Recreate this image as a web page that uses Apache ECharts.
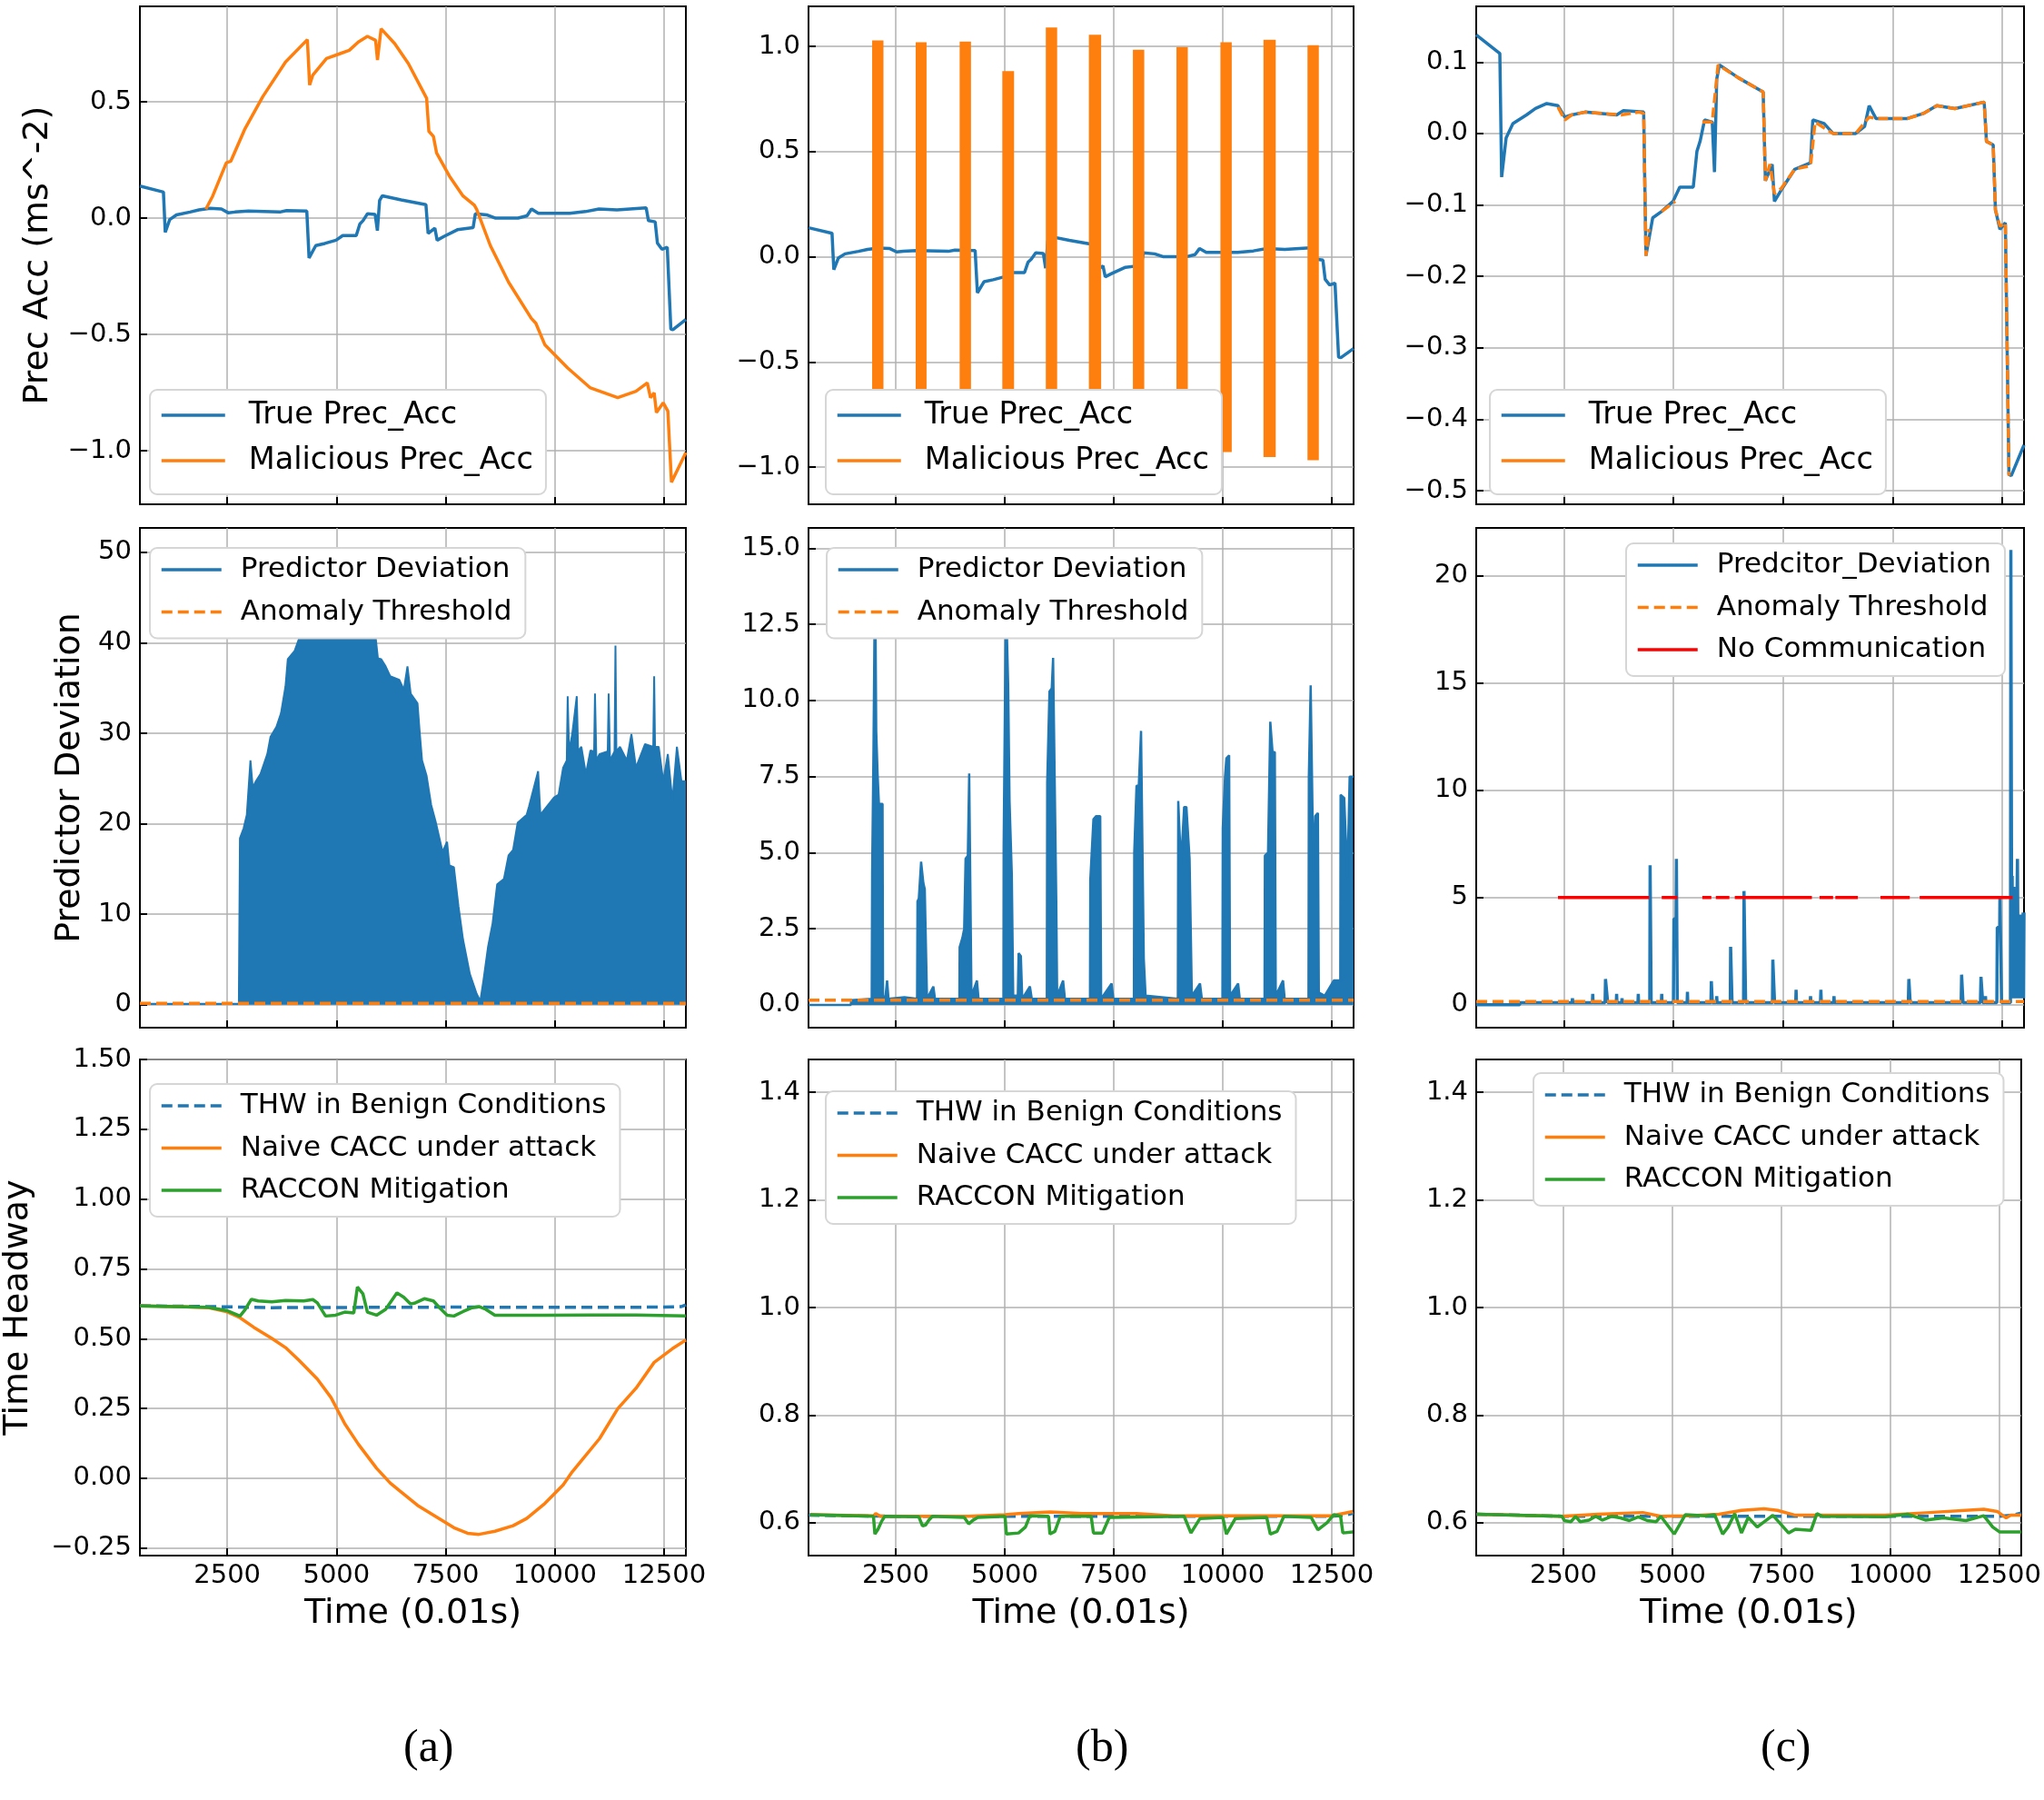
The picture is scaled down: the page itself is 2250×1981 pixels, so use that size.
<!DOCTYPE html>
<html lang="en">
<head>
<meta charset="UTF-8">
<title>Prec Acc / Predictor Deviation / Time Headway</title>
<script src="https://cdn.jsdelivr.net/npm/echarts@6/dist/echarts.min.js"></script>
<style>body{margin:0;background:#fff;}</style>
</head>
<body>
<div id="chart" style="width:2250px;height:1981px;"></div>
<script>
// ---------- data, time in 0.01 s ----------
var xTicks = [2500, 5000, 7500, 10000, 12500];

// true preceding-vehicle acceleration (same run in all three columns)
var trueAcc = [[500,0.138],[1039,0.112],[1080,-0.061],[1183,-0.006],[1337,0.014],[1646,0.026],[1852,0.035],[2109,0.042],[2366,0.039],[2520,0.023],[2675,0.026],[2984,0.030],[3704,0.026],[3858,0.032],[4321,0.030],[4373,-0.171],[4527,-0.118],[4733,-0.109],[4990,-0.095],[5144,-0.075],[5453,-0.075],[5536,-0.025],[5608,-0.011],[5711,0.019],[5886,0.016],[5937,-0.054],[5988,0.076],[6050,0.096],[6482,0.078],[7048,0.058],[7099,-0.066],[7253,-0.043],[7305,-0.095],[7460,-0.079],[7768,-0.050],[8129,-0.041],[8180,0.019],[8437,0.014],[8643,0.000],[9158,0.000],[9363,0.010],[9466,0.039],[9621,0.021],[10341,0.021],[10701,0.028],[11010,0.039],[11422,0.035],[12091,0.044],[12143,-0.011],[12297,-0.016],[12348,-0.107],[12451,-0.134],[12574,-0.125],[12656,-0.477],[12708,-0.479],[13000,-0.436]];

// (a) malicious acceleration
var malAccA = [[2010,0.038],[2167,0.095],[2479,0.238],[2583,0.245],[2896,0.380],[3313,0.522],[3834,0.671],[4334,0.767],[4386,0.572],[4459,0.615],[4772,0.686],[5084,0.707],[5293,0.721],[5501,0.757],[5709,0.781],[5897,0.764],[5939,0.679],[6022,0.814],[6334,0.750],[6647,0.664],[7064,0.515],[7116,0.373],[7220,0.351],[7293,0.280],[7585,0.181],[7898,0.095],[8158,0.055],[8210,0.038],[8523,-0.118],[8940,-0.275],[9461,-0.431],[9565,-0.452],[9773,-0.545],[10294,-0.644],[10815,-0.730],[11440,-0.772],[11857,-0.744],[12117,-0.708],[12190,-0.772],[12274,-0.751],[12326,-0.836],[12482,-0.794],[12587,-0.829],[12670,-1.135],[13000,-1.007]];

// (b) malicious acceleration bursts: start, end, top, bottom
var burstStart = [1959, 2958, 3966, 4944, 5942, 6930, 7939, 8938, 9946, 10934, 11943];
var burstEnd   = [2219, 3207, 4226, 5214, 6202, 7211, 8199, 9198, 10206, 11215, 12203];
var burstTop   = [1.028, 1.019, 1.023, 0.882, 1.090, 1.055, 0.984, 0.997, 1.019, 1.031, 1.005];
var burstLow   = [-0.95, -0.95, -0.95, -0.95, -0.95, -0.95, -0.95, -0.95, -0.928, -0.951, -0.967];

// (c) malicious acceleration, '-' where only the true trace shows
var malAccC = [[2366,0.037],[2521,0.019],[2675,0.026],[2984,0.030],[3807,0.026],[4218,0.030],[4321,0.028],[4373,-0.171],[4445,-0.134],[4500,'-'],[4733,-0.109],[5042,-0.095],[5100,'-'],[5659,0.016],[5885,0.016],[6019,0.096],[6482,0.078],[7048,0.058],[7099,-0.066],[7202,-0.043],[7305,-0.084],[7460,-0.077],[7768,-0.050],[8129,-0.045],[8232,0.016],[8643,0.000],[9158,0.000],[9466,0.023],[9621,0.021],[10341,0.021],[10701,0.028],[11010,0.039],[11422,0.035],[12091,0.044],[12143,-0.011],[12297,-0.016],[12348,-0.107],[12451,-0.130],[12574,-0.125],[12656,-0.479]];

// predictor deviation (upper envelope of the dense oscillation)
var devA = [[500,0.1],[2765,0.1],[2790,18.4],[2875,19.5],[2948,21.0],[3031,27.0],[3084,24.0],[3156,24.7],[3261,25.5],[3417,27.7],[3490,29.6],[3625,30.7],[3730,32.2],[3834,35.2],[3886,38.2],[4042,39.1],[4146,40.5],[4250,42],[4459,44],[4772,45],[5293,45.5],[5605,44],[5866,42],[5949,38.3],[6022,38.2],[6126,37.4],[6230,36.3],[6439,35.9],[6543,34.8],[6626,37.4],[6699,34.4],[6856,33.3],[6908,30.0],[6960,27.0],[7064,25.3],[7168,22.1],[7272,20.2],[7429,16.9],[7533,18.0],[7585,15.4],[7689,15.2],[7793,10.9],[7898,7.2],[8054,3.4],[8210,1.2],[8294,0.4],[8366,2.7],[8471,6.4],[8575,9.0],[8679,13.3],[8835,13.9],[8940,16.5],[9044,17.1],[9148,20.1],[9356,21.0],[9408,21.9],[9617,25.8],[9669,21.0],[9982,22.9],[10086,23.2],[10190,26.2],[10273,27],[10294,34.1],[10325,28],[10398,29.9],[10502,34.1],[10533,28],[10607,28.5],[10711,25.5],[10815,28.1],[10899,28],[10919,34.4],[10951,27],[11023,27.7],[11211,28],[11232,34.4],[11263,27],[11367,28],[11388,39.7],[11409,28],[11492,28.5],[11649,27.0],[11753,29.9],[11857,26.2],[12065,28.8],[12253,28.5],[12274,36.3],[12294,28.5],[12378,28.5],[12482,24.7],[12587,27.7],[12691,22.5],[12795,28.5],[12899,24.7],[13000,24.7]];

var devB = [[500,0.0],[1470,0.0],[1480,0.15],[1949,0.2],[1959,4.3],[1990,8.4],[2011,12.0],[2032,13.5],[2053,9.0],[2084,7.6],[2115,6.6],[2198,6.6],[2209,0.3],[2260,0.2],[2302,0.8],[2334,0.2],[2700,0.25],[2990,0.2],[2999,3.4],[3030,3.5],[3082,4.7],[3134,4.0],[3166,3.8],[3207,3.8],[3218,0.2],[3363,0.6],[3400,0.2],[3960,0.2],[3966,1.9],[4029,2.2],[4070,2.5],[4102,4.8],[4154,4.9],[4185,7.6],[4216,7.6],[4237,0.3],[4362,0.8],[4400,0.2],[4970,0.2],[4975,5.2],[5027,13.5],[5079,10.5],[5110,6.7],[5162,4.3],[5194,0.3],[5300,0.3],[5318,1.7],[5370,1.6],[5402,0.2],[5578,0.6],[5620,0.2],[5965,0.2],[5974,7.3],[6026,10.3],[6078,10.4],[6109,11.4],[6150,11.4],[6182,3.4],[6202,0.3],[6338,0.8],[6380,0.2],[6955,0.2],[6962,4.1],[7034,6.1],[7097,6.2],[7190,6.2],[7211,0.2],[7450,0.7],[7490,0.2],[7962,0.2],[7970,5.0],[8022,7.2],[8074,7.2],[8126,9.0],[8158,9.0],[8189,1.5],[8230,0.3],[8970,0.2],[8979,6.7],[9042,4.6],[9114,6.5],[9166,6.5],[9239,4.8],[9270,4.8],[9291,0.3],[9478,0.7],[9520,0.2],[9992,0.2],[10000,5.8],[10052,7.5],[10083,8.1],[10146,8.2],[10167,0.3],[10352,0.7],[10390,0.2],[10958,0.2],[10966,4.9],[11038,5.0],[11090,9.3],[11142,8.3],[11194,8.3],[11215,0.3],[11382,0.8],[11420,0.2],[11966,0.2],[11974,7.5],[12016,10.5],[12078,4.4],[12120,6.2],[12182,6.3],[12203,0.4],[12338,0.3],[12546,0.8],[12650,0.8],[12695,0.8],[12702,6.9],[12785,6.8],[12858,4.2],[12910,7.5],[12983,7.5],[13000,7.5]];

var devC = [[500,0],[1490,0],[1500,0.1],[2688,0.1],[2696,0.3],[2704,0.1],[3151,0.1],[3159,0.5],[3167,0.1],[3440,0.1],[3450,1.2],[3490,1.2],[3500,0.1],[3696,0.1],[3704,0.5],[3712,0.1],[3819,0.1],[3827,0.3],[3835,0.1],[4190,0.1],[4198,0.5],[4206,0.1],[4460,0.1],[4468,6.5],[4484,6.5],[4492,0.1],[4725,0.1],[4733,0.5],[4741,0.1],[5000,0.1],[5011,4.0],[5060,4.0],[5068,6.8],[5080,6.8],[5088,0.1],[5312,0.1],[5320,0.6],[5328,0.1],[5855,0.1],[5865,1.1],[5880,1.1],[5888,0.1],[5980,0.1],[5988,0.4],[5996,0.1],[6297,0.1],[6305,2.7],[6330,2.7],[6338,0.1],[6600,0.1],[6610,5.3],[6640,5.3],[6648,0.1],[7260,0.1],[7268,2.1],[7300,2.1],[7308,0.1],[7790,0.1],[7799,0.7],[7808,0.1],[8120,0.1],[8129,0.4],[8138,0.1],[8355,0.1],[8365,0.7],[8375,0.1],[8655,0.1],[8664,0.4],[8673,0.1],[10360,0.1],[10372,1.2],[10395,1.2],[10403,0.1],[11565,0.1],[11576,1.4],[11600,1.4],[11608,0.1],[12005,0.1],[12018,1.3],[12050,1.3],[12058,0.1],[12113,0.1],[12121,0.4],[12129,0.1],[12380,0.1],[12390,3.6],[12445,3.6],[12450,5.0],[12480,5.0],[12488,0.1],[12690,0.1],[12700,21.2],[12716,21.2],[12722,0.3],[12730,6.0],[12740,0.3],[12760,0.3],[12768,5.5],[12776,0.3],[12790,0.3],[12800,4.5],[12810,0.3],[12840,0.3],[12850,6.8],[12862,6.8],[12870,0.3],[12880,4.2],[12890,0.3],[12900,4.2],[12910,0.3],[12920,4.2],[12930,0.3],[12940,4.2],[12950,0.3],[12960,4.2],[12970,0.3],[12980,4.3],[12990,0.3],[13000,4.3]];

var anomalyThreshold = 0.15;
var noCommLevel = 5;
var noCommSegments = [[2366,4445],[4733,5093],[5659,5865],[5968,6277],[6400,8160],[8334,8643],[8695,9209],[9724,10393],[10619,12739]];

// time headway
var benignA = [[500,0.618],[2500,0.614],[3521,0.611],[7709,0.613],[10836,0.612],[12503,0.613],[12900,0.615],[13000,0.621]];
var naiveA = [[500,0.617],[1437,0.615],[2062,0.611],[2479,0.597],[2792,0.575],[3104,0.541],[3521,0.501],[3834,0.468],[4146,0.422],[4563,0.355],[4876,0.289],[5032,0.242],[5188,0.196],[5501,0.122],[5918,0.036],[6230,-0.017],[6439,-0.044],[6856,-0.097],[7272,-0.137],[7689,-0.177],[8002,-0.197],[8262,-0.201],[8627,-0.190],[9044,-0.170],[9356,-0.144],[9773,-0.090],[10190,-0.024],[10398,0.023],[10607,0.063],[11024,0.142],[11440,0.249],[11857,0.322],[12274,0.415],[12691,0.464],[13000,0.495]];
var raccoonA = [[500,0.617],[2062,0.612],[2479,0.601],[2792,0.581],[2896,0.601],[3052,0.641],[3209,0.635],[3521,0.632],[3834,0.637],[4250,0.635],[4459,0.640],[4563,0.628],[4751,0.581],[4980,0.584],[5188,0.595],[5397,0.592],[5480,0.685],[5605,0.661],[5709,0.595],[5918,0.584],[6126,0.605],[6387,0.664],[6543,0.648],[6699,0.624],[6803,0.628],[7012,0.643],[7220,0.635],[7377,0.608],[7533,0.584],[7689,0.581],[7898,0.597],[8106,0.611],[8262,0.615],[8419,0.605],[8627,0.584],[9773,0.584],[10815,0.585],[11857,0.585],[13000,0.581]];

var benignB = [[500,0.614],[2500,0.612],[7500,0.612],[12500,0.612],[12800,0.614],[13000,0.618]];
var naiveB = [[534,0.615],[1990,0.613],[2042,0.617],[2146,0.612],[4174,0.612],[5006,0.615],[5318,0.617],[6046,0.620],[6774,0.617],[8022,0.617],[8854,0.613],[10934,0.613],[12494,0.613],[12983,0.621]];
var raccoonB = [[534,0.615],[1990,0.612],[2022,0.579],[2094,0.588],[2178,0.603],[2250,0.612],[3030,0.611],[3114,0.594],[3186,0.596],[3259,0.605],[3342,0.612],[4070,0.610],[4174,0.598],[4278,0.605],[4382,0.610],[5006,0.612],[5038,0.579],[5318,0.581],[5474,0.592],[5578,0.613],[6005,0.612],[6036,0.579],[6150,0.584],[6275,0.612],[6982,0.612],[7034,0.581],[7242,0.581],[7398,0.610],[9114,0.612],[9270,0.581],[9478,0.608],[10000,0.610],[10082,0.579],[10290,0.608],[11007,0.610],[11090,0.579],[11246,0.584],[11402,0.612],[12026,0.610],[12182,0.587],[12390,0.600],[12546,0.615],[12702,0.612],[12754,0.581],[12983,0.583]];

var benignC = [[500,0.616],[2500,0.612],[12500,0.612],[12800,0.614],[13000,0.618]];
var naiveC = [[514,0.616],[2469,0.612],[3292,0.616],[4321,0.619],[4733,0.612],[5350,0.613],[6071,0.616],[6585,0.623],[7100,0.626],[7408,0.623],[7820,0.614],[8334,0.614],[9878,0.614],[10907,0.619],[12142,0.625],[12451,0.621],[12656,0.609],[12759,0.614],[13000,0.614]];
var raccoonC = [[514,0.616],[2469,0.612],[2521,0.604],[2675,0.602],[2778,0.612],[2881,0.602],[3087,0.605],[3241,0.612],[3395,0.605],[3601,0.612],[3807,0.609],[4013,0.604],[4218,0.611],[4424,0.604],[4630,0.602],[4733,0.612],[5042,0.579],[5299,0.615],[5762,0.613],[5968,0.615],[6153,0.579],[6277,0.592],[6431,0.617],[6585,0.581],[6740,0.610],[6945,0.592],[7305,0.614],[7665,0.581],[7820,0.588],[8180,0.586],[8314,0.617],[8437,0.612],[9878,0.611],[10392,0.616],[10804,0.605],[11216,0.609],[11731,0.604],[12142,0.613],[12348,0.592],[12502,0.583],[13000,0.583]];

// y tick values per panel
var ticksA1 = [-1.0, -0.5, 0, 0.5];
var ticksB1 = [-1.0, -0.5, 0, 0.5, 1.0];
var ticksC1 = [-0.5, -0.4, -0.3, -0.2, -0.1, 0, 0.1];
var ticksA2 = [0, 10, 20, 30, 40, 50];
var ticksB2 = [0, 2.5, 5, 7.5, 10, 12.5, 15];
var ticksC2 = [0, 5, 10, 15, 20];
var ticksA3 = [-0.25, 0, 0.25, 0.5, 0.75, 1.0, 1.25, 1.5];
var ticksB3 = [0.6, 0.8, 1.0, 1.2, 1.4];

var BLUE = '#1f77b4', ORANGE = '#ff7f0e', GREEN = '#2ca02c', RED = '#ff0000';
var FONT = 'DejaVu Sans';
var LW = 3.5;

var colX = [[154, 601], [890, 600], [1625, 603]];
var rowY = [[7, 548], [581, 550], [1166, 546]];

var panels = [
    {yMin: -1.23, yMax: 0.91, ticks: ticksA1, dec: 1, name: 'Prec Acc (ms^-2)', gap: 93},
    {yMin: -1.176, yMax: 1.19, ticks: ticksB1, dec: 1},
    {yMin: -0.519, yMax: 0.178, ticks: ticksC1, dec: 1},
    {yMin: -2.54, yMax: 52.7, ticks: ticksA2, dec: 0, name: 'Predictor Deviation', gap: 58},
    {yMin: -0.75, yMax: 15.67, ticks: ticksB2, dec: 1},
    {yMin: -1.07, yMax: 22.23, ticks: ticksC2, dec: 0},
    {yMin: -0.277, yMax: 1.5, ticks: ticksA3, dec: 2, name: 'Time Headway', gap: 115},
    {yMin: 0.539, yMax: 1.461, ticks: ticksB3, dec: 1},
    {yMin: 0.539, yMax: 1.461, ticks: ticksB3, dec: 1}
];

var grids = [], xAxes = [], yAxes = [];
panels.forEach(function (p, i) {
    var c = colX[i % 3], r = rowY[Math.floor(i / 3)];
    var bottomRow = i >= 6;
    grids.push({left: c[0], top: r[0], width: c[1], height: r[1], show: true,
        borderColor: '#000', borderWidth: 2, backgroundColor: '#fff'});
    xAxes.push({
        type: 'value', gridIndex: i, min: 500, max: 13000,
        axisLine: {show: false, onZero: false},
        axisTick: {show: true, inside: true, length: 8, customValues: xTicks, lineStyle: {color: '#000', width: 2}},
        axisLabel: {show: bottomRow, customValues: xTicks, margin: 8, color: '#000', fontSize: 29, fontFamily: FONT,
            formatter: function (v) { return String(v); }},
        splitLine: {show: true, lineStyle: {color: '#b0b0b0', width: 1.5}},
        name: bottomRow ? 'Time (0.01s)' : '', nameLocation: 'middle', nameGap: 45,
        nameTextStyle: {fontSize: 38, color: '#000', fontFamily: FONT}
    });
    yAxes.push({
        type: 'value', gridIndex: i, min: p.yMin, max: p.yMax,
        axisLine: {show: false, onZero: false},
        axisTick: {show: true, inside: true, length: 8, customValues: p.ticks, lineStyle: {color: '#000', width: 2}},
        axisLabel: {customValues: p.ticks, margin: 9, color: '#000', fontSize: 29, fontFamily: FONT,
            formatter: (function (d) {
                return function (v) { return v.toFixed(d).replace('-', '\u2212'); };
            })(p.dec)},
        splitLine: {show: true, lineStyle: {color: '#b0b0b0', width: 1.5}},
        name: p.name || '', nameLocation: 'middle', nameGap: p.gap || 50,
        nameTextStyle: {fontSize: 38, color: '#000', fontFamily: FONT}
    });
});

function line(name, data, idx, color, dashed, z, extra) {
    var s = {
        name: name, type: 'line', xAxisIndex: idx, yAxisIndex: idx, data: data,
        symbol: 'none', animation: false, z: z || 2, clip: true,
        lineStyle: {color: color, width: LW, type: dashed ? [12, 6] : 'solid'},
        itemStyle: {color: color}
    };
    for (var k in extra) s[k] = extra[k];
    return s;
}

// level line broken into the listed segments
function flat(level, segs) {
    var out = [];
    segs.forEach(function (s) {
        out.push([s[0], level], [s[1], level], [s[1], '-']);
    });
    return out;
}

var bursts = burstStart.map(function (t, i) {
    return [t, burstEnd[i], burstTop[i], burstLow[i]];
});

var series = [
    line('True Prec_Acc', trueAcc, 0, BLUE, false, 2),
    line('Malicious Prec_Acc', malAccA, 0, ORANGE, false, 3),
    line('True Prec_Acc', trueAcc, 1, BLUE, false, 2),
    {
        name: 'Malicious Prec_Acc', type: 'custom', xAxisIndex: 1, yAxisIndex: 1,
        data: bursts, encode: {x: [0, 1], y: [2, 3]}, z: 3, animation: false,
        itemStyle: {color: ORANGE},
        renderItem: function (params, api) {
            var p1 = api.coord([api.value(0), api.value(2)]);
            var p2 = api.coord([api.value(1), api.value(3)]);
            return {type: 'rect', shape: {x: p1[0], y: p1[1], width: p2[0] - p1[0], height: p2[1] - p1[1]},
                style: {fill: ORANGE}};
        }
    },
    line('True Prec_Acc', trueAcc, 2, BLUE, false, 2),
    line('Malicious Prec_Acc', malAccC, 2, ORANGE, true, 3, {lineStyle: {color: ORANGE, width: LW, type: [11, 5]}}),

    line('Predictor Deviation', devA, 3, BLUE, false, 2, {areaStyle: {color: BLUE, opacity: 1}, lineStyle: {color: BLUE, width: 2}}),
    line('Anomaly Threshold', [[500, anomalyThreshold], [13000, anomalyThreshold]], 3, ORANGE, true, 3),
    line('Predictor Deviation', devB, 4, BLUE, false, 2, {areaStyle: {color: BLUE, opacity: 1}, lineStyle: {color: BLUE, width: 2.5}}),
    line('Anomaly Threshold', [[500, anomalyThreshold], [13000, anomalyThreshold]], 4, ORANGE, true, 3),
    line('Predcitor_Deviation', devC, 5, BLUE, false, 2),
    line('Anomaly Threshold', [[500, anomalyThreshold], [13000, anomalyThreshold]], 5, ORANGE, true, 3),
    line('No Communication', flat(noCommLevel, noCommSegments), 5, RED, false, 3, {connectNulls: false}),

    line('THW in Benign Conditions', benignA, 6, BLUE, true, 2),
    line('Naive CACC under attack', naiveA, 6, ORANGE, false, 3),
    line('RACCON Mitigation', raccoonA, 6, GREEN, false, 4),
    line('THW in Benign Conditions', benignB, 7, BLUE, true, 2),
    line('Naive CACC under attack', naiveB, 7, ORANGE, false, 3),
    line('RACCON Mitigation', raccoonB, 7, GREEN, false, 4),
    line('THW in Benign Conditions', benignC, 8, BLUE, true, 2),
    line('Naive CACC under attack', naiveC, 8, ORANGE, false, 3),
    line('RACCON Mitigation', raccoonC, 8, GREEN, false, 4)
];

// legend boxes: first row is drawn a little larger in the figure
var bigLegend = {fontSize: 33.5, lineHeight: 36, itemGap: 14, itemWidth: 70, textGap: 21, padding: [10, 14, 19, 11]};
var smallLegend = {fontSize: 31, lineHeight: 34, itemGap: 12.5, itemWidth: 66, textGap: 16, padding: [7, 15, 12, 11]};
var legendSpots = [
    {left: 165, top: 429, s: bigLegend, data: ['True Prec_Acc', 'Malicious Prec_Acc']},
    {left: 909, top: 429, s: bigLegend, data: ['True Prec_Acc', 'Malicious Prec_Acc']},
    {left: 1640, top: 429, s: bigLegend, data: ['True Prec_Acc', 'Malicious Prec_Acc']},
    {left: 165, top: 603, s: smallLegend, data: ['Predictor Deviation', 'Anomaly Threshold']},
    {left: 910, top: 603, s: smallLegend, data: ['Predictor Deviation', 'Anomaly Threshold']},
    {left: 1790, top: 598, s: smallLegend, data: ['Predcitor_Deviation', 'Anomaly Threshold', 'No Communication']},
    {left: 165, top: 1193, s: smallLegend, data: ['THW in Benign Conditions', 'Naive CACC under attack', 'RACCON Mitigation']},
    {left: 909, top: 1201, s: smallLegend, data: ['THW in Benign Conditions', 'Naive CACC under attack', 'RACCON Mitigation']},
    {left: 1688, top: 1181, s: smallLegend, data: ['THW in Benign Conditions', 'Naive CACC under attack', 'RACCON Mitigation']}
];
var legends = legendSpots.map(function (l) {
    return {
        left: l.left, top: l.top, orient: 'vertical', data: l.data, selectedMode: false,
        itemWidth: l.s.itemWidth, itemHeight: 20, itemGap: l.s.itemGap,
        itemStyle: {opacity: 0},
        lineStyle: {width: LW},
        backgroundColor: '#fff', borderColor: '#d6d6d6', borderWidth: 2, borderRadius: 8,
        padding: l.s.padding,
        textStyle: {fontSize: l.s.fontSize, color: '#000', fontFamily: FONT, lineHeight: l.s.lineHeight,
            padding: [0, 0, 0, l.s.textGap]}
    };
});

var subLabels = [['(a)', 472], ['(b)', 1212], ['(c)', 1966]];

var chart = echarts.init(document.getElementById('chart'));
chart.setOption({
    animation: false,
    textStyle: {fontFamily: FONT},
    grid: grids,
    xAxis: xAxes,
    yAxis: yAxes,
    legend: legends,
    series: series,
    graphic: subLabels.map(function (s) {
        return {type: 'text', left: s[1] - 28, top: 1900,
            style: {text: s[0], font: '50px "Liberation Serif"', fill: '#000'}};
    })
});
</script>
</body>
</html>
